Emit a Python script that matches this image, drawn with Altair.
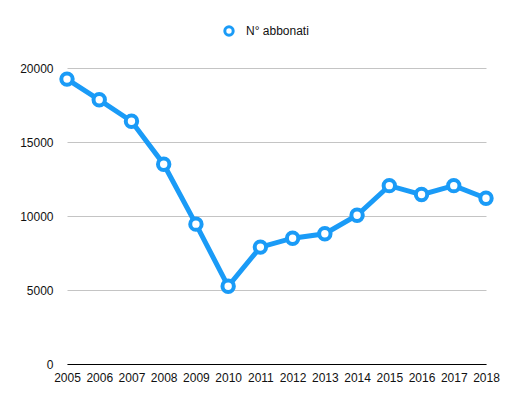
import altair as alt
import pandas as pd

years = [2005, 2006, 2007, 2008, 2009, 2010, 2011, 2012, 2013, 2014, 2015, 2016, 2017, 2018]
values = [19250, 17850, 16400, 13500, 9450, 5250, 7900, 8500, 8800, 10050, 12050, 11450, 12050, 11200]
series_name = "N° abbonati"
y_ticks = [0, 5000, 10000, 15000, 20000]

df = pd.DataFrame({"anno": years, "valore": values, "serie": [series_name] * len(years)})

BLUE = "#1A9BF7"
FONT = "Liberation Sans"

base = alt.Chart(df).encode(
    x=alt.X(
        "anno:Q",
        scale=alt.Scale(domain=[2005, 2018], nice=False, zero=False),
        axis=alt.Axis(
            title=None, values=years, format="d", grid=False, ticks=False, tickSize=0,
            domain=True, domainColor="#000000", domainWidth=1.2,
            labelPadding=8, labelFontSize=12, labelColor="#111111", labelFont=FONT,
            labelFlush=False, labelOverlap=False,
        ),
    ),
    y=alt.Y(
        "valore:Q",
        scale=alt.Scale(domain=[0, 20000], nice=False),
        axis=alt.Axis(
            title=None, values=y_ticks, format="d", grid=True, gridColor="#C4C4C4", gridWidth=1,
            ticks=False, tickSize=0, domain=False, labelPadding=14,
            labelFontSize=12, labelColor="#111111", labelFont=FONT,
        ),
    ),
    color=alt.Color(
        "serie:N",
        scale=alt.Scale(range=[BLUE]),
        legend=alt.Legend(
            title=None, orient="none", legendX=156, legendY=-43,
            symbolType="circle", symbolFillColor="white", symbolStrokeColor=BLUE,
            symbolStrokeWidth=3, symbolSize=70, labelFontSize=12, labelFont=FONT,
            labelColor="#111111", labelOffset=11,
        ),
    ),
)

line = base.mark_line(strokeWidth=5)
points = base.mark_point(filled=False, fill="white", fillOpacity=1, opacity=1, size=130, strokeWidth=4)

chart = (line + points).properties(
    width=419, height=296,
    autosize=alt.AutoSizeParams(type="none"),
    padding={"left": 59, "top": 60, "right": 34, "bottom": 25},
).configure_view(stroke=None)

chart.save("out.html", embed_options={"renderer": "svg", "actions": False})
